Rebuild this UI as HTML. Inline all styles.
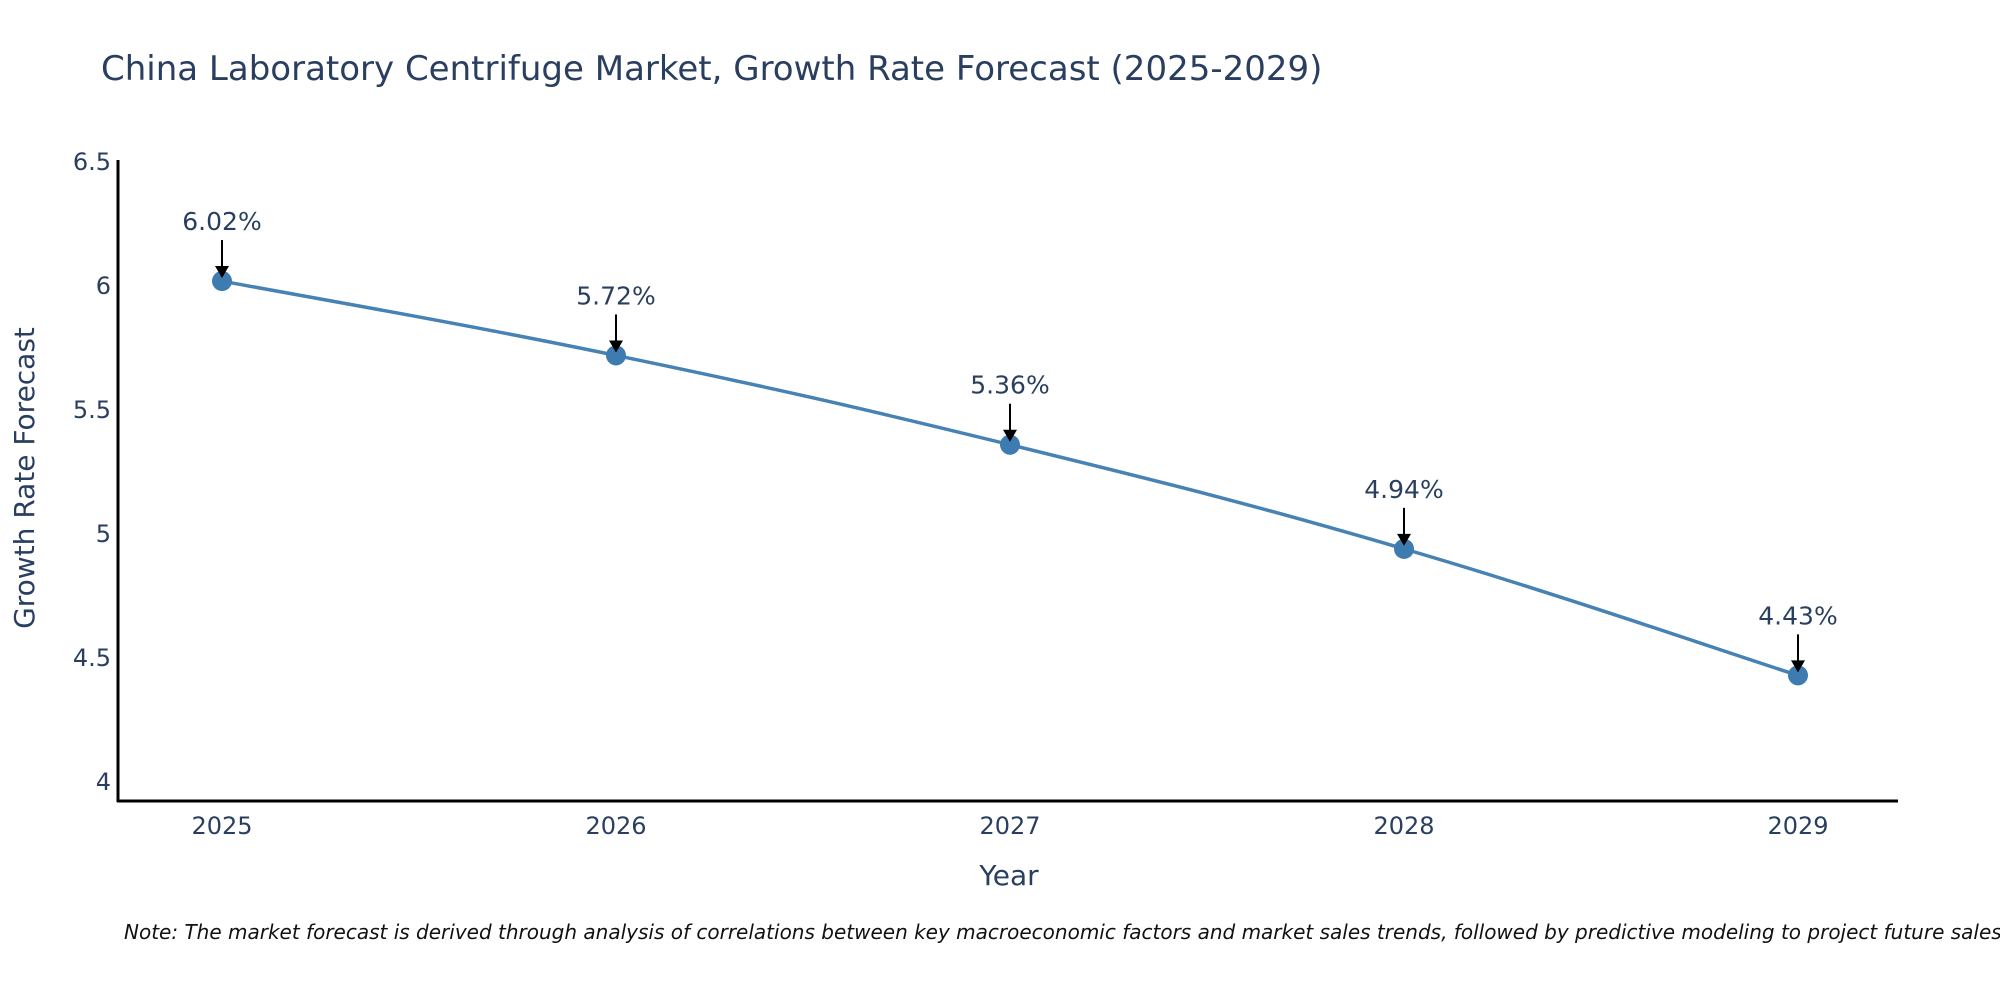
<!DOCTYPE html>
<html><head><meta charset="utf-8"><style>
html,body{margin:0;padding:0;background:#fff;width:2000px;height:1000px;overflow:hidden;font-family:"DejaVu Sans","Liberation Sans",sans-serif;}
</style></head><body>
<svg id="chart" width="2000" height="1000" xmlns="http://www.w3.org/2000/svg">
<text x="101" y="80" font-size="34" fill="#2a3f5f">China Laboratory Centrifuge Market, Growth Rate Forecast (2025-2029)</text>
<g id="yticks"></g><g id="xticks"></g>
<line x1="118" y1="160" x2="118" y2="802" stroke="#000" stroke-width="3"/>
<line x1="117" y1="801" x2="1898" y2="801" stroke="#000" stroke-width="3"/>
<text transform="translate(34,478) rotate(-90)" text-anchor="middle" font-size="28" fill="#2a3f5f">Growth Rate Forecast</text>
<text x="1009" y="885" text-anchor="middle" font-size="28" fill="#2a3f5f">Year</text>
<g id="series"></g>
<text x="124" y="939" font-size="20" font-style="italic" fill="#111">Note: The market forecast is derived through analysis of correlations between key macroeconomic factors and market sales trends, followed by predictive modeling to project future sales.</text>
</svg>
<script>
const categories = ["2025","2026","2027","2028","2029"];
const values = [6.02, 5.72, 5.36, 4.94, 4.43];
const yTicks = [4, 4.5, 5, 5.5, 6, 6.5];
const yTickLabels = ["4","4.5","5","5.5","6","6.5"];

const NS = "http://www.w3.org/2000/svg";
const x = i => 222 + i * (1798 - 222) / (categories.length - 1);
const y = v => 782 - (v - 4) * 248;
function mk(tag, attrs, parent){ const e=document.createElementNS(NS,tag); for(const k in attrs) e.setAttribute(k,attrs[k]); parent.appendChild(e); return e; }

const yt = document.getElementById('yticks');
yTicks.forEach((t,i)=>{
  const e = mk('text',{x:111,y:y(t)+8,'text-anchor':'end','font-size':24,fill:'#2a3f5f'},yt);
  
  
  e.textContent = yTickLabels[i];
});
const xt = document.getElementById('xticks');
categories.forEach((c,i)=>{
  const e = mk('text',{x:x(i),y:834,'text-anchor':'middle','font-size':24,fill:'#2a3f5f'},xt);
  
  
  e.textContent = c;
});

const g = document.getElementById('series');
const pts = values.map((v,i)=>[x(i),y(v)]);
let d = `M${pts[0][0]},${pts[0][1]}`;
const s = 0.5/3*1.2;
for(let i=0;i<pts.length-1;i++){
  const p0=pts[Math.max(0,i-1)],p1=pts[i],p2=pts[i+1],p3=pts[Math.min(pts.length-1,i+2)];
  const c1=[p1[0]+(p2[0]-p0[0])*s,p1[1]+(p2[1]-p0[1])*s];
  const c2=[p2[0]-(p3[0]-p1[0])*s,p2[1]-(p3[1]-p1[1])*s];
  d+=` C${c1[0]},${c1[1]} ${c2[0]},${c2[1]} ${p2[0]},${p2[1]}`;
}
const line = mk('path',{d:d,fill:'none',stroke:'#4682b4','stroke-width':3.5},g);


values.forEach((v,i)=>{
  const px=x(i), py=y(v);
  const c = mk('circle',{cx:px,cy:py,r:10,fill:'#3d7bb0'},g);
  
  
  const a = mk('line',{x1:px,y1:py-41,x2:px,y2:py-14,stroke:'#000','stroke-width':2},g);
  
  
  const h = mk('polygon',{points:`${px-7},${py-15} ${px+7},${py-15} ${px},${py-3}`,fill:'#000'},g);
  
  
  const t = mk('text',{x:px,y:py-51,'text-anchor':'middle','font-size':25,fill:'#2a3f5f'},g);
  
  
  t.textContent = v.toFixed(2) + '%';
});
</script>
</body></html>
